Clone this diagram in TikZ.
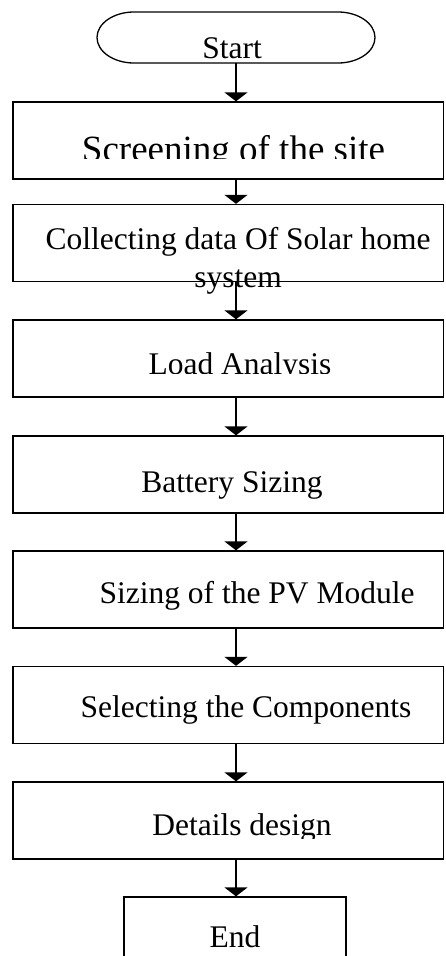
\documentclass[tikz,border=0pt]{standalone}
\usepackage{fontspec}
\setmainfont{Liberation Serif}
\usetikzlibrary{arrows.meta}

\begin{document}
\begin{tikzpicture}[x=1pt, y=-1pt, line width=1.3pt,
    main/.style = {draw, rectangle, inner sep=0pt, minimum width=430.5pt, minimum height=77pt},
    term/.style = {rectangle, inner sep=0pt, outer sep=0pt, minimum width=278pt, minimum height=51pt},
    txt/.style = {anchor=base, inner sep=0pt, font=\fontsize{31.5}{38}\selectfont},
    arr/.style = {-{Triangle[width=23pt,length=9pt]}}]
    \clip (0,0) rectangle (445,956);
    % boxes
    \node[term] (start) at (236,37.5) {};
    \draw ([xshift=37pt]start.north west) -- ([xshift=-37pt]start.north east)
        arc[start angle=-90, end angle=90, x radius=37, y radius=25.5]
        -- ([xshift=37pt]start.south west)
        arc[start angle=90, end angle=270, x radius=37, y radius=25.5] -- cycle;
    \node[main] (1) at (228.25,140.5) {};
    \node[main] (2) at (228.25,243)   {};
    \node[main] (3) at (228.25,358.5) {};
    \node[main] (4) at (228.25,474.5) {};
    \node[main] (5) at (228.25,589.5) {};
    \node[main] (6) at (228.25,705)   {};
    \node[main] (7) at (228.25,820.5) {};
    \node[draw, rectangle, inner sep=0pt, minimum width=222pt, minimum height=100pt] (stop) at (235,947) {};
    % texts
    \node[txt] (t0) at (232,58) {Start};
    \begin{scope}
        \clip (0,100) rectangle (445,158);
        \node[txt, font=\fontsize{37}{44}\selectfont] (t1) at (233.5,161) {Screening of the site};
    \end{scope}
    \node[txt] (t2) at (238,249) {Collecting data Of Solar home};
    \node[txt] (t2b) at (238,287) {system};
    \begin{scope}
        \clip (0,320) rectangle (445,373.5);
        \node[txt] (t3) at (240,374) {Load Analysis};
    \end{scope}
    \node[txt] (t4) at (232,492) {Battery Sizing};
    \node[txt] (t5) at (257,603) {Sizing of the PV Module};
    \node[txt] (t6) at (246,717) {Selecting the Components};
    \begin{scope}
        \clip (0,782) rectangle (445,838);
        \node[txt] (t7) at (242,835) {Details design};
    \end{scope}
    \node[txt] (t8) at (235,947) {End};
    % arrows
    \draw[arr] (start.south) -- (start.south |- 1.north);
    \draw[arr] (1.south -| start.south) -- (2.north -| start.south);
    \draw[arr] (2.south -| start.south) -- (3.north -| start.south);
    \draw[arr] (3.south -| start.south) -- (4.north -| start.south);
    \draw[arr] (4.south -| start.south) -- (5.north -| start.south);
    \draw[arr] (5.south -| start.south) -- (6.north -| start.south);
    \draw[arr] (6.south -| start.south) -- (7.north -| start.south);
    \draw[arr] (7.south -| start.south) -- (stop.north -| start.south);
\end{tikzpicture}
\end{document}
